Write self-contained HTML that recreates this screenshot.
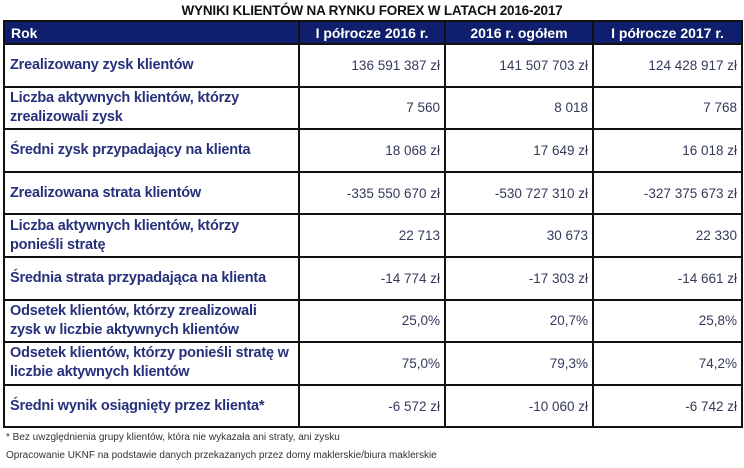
<!DOCTYPE html>
<html><head><meta charset="utf-8"><style>
body{margin:0;background:#fff;width:744px;height:468px;position:relative;font-family:"Liberation Sans",sans-serif;overflow:hidden}
.title{position:absolute;top:3px;left:0;width:744px;text-align:center;font-weight:bold;font-size:13.5px;color:#111;letter-spacing:-0.2px}
table{position:absolute;left:3px;top:20px;width:738px;border-collapse:collapse;table-layout:fixed}
td,th{border:2px solid #111;padding:0 6px;color:#243070;font-size:14px}
th{background:#0f1f6e;color:#fff;height:21px;font-weight:bold;font-size:14px}
th.l{text-align:left;padding-left:6px}
td.l{font-weight:bold;text-align:left;line-height:19px;letter-spacing:-0.2px;color:#27307a;font-size:14.5px;padding-left:5px}
td.n{text-align:right;padding-right:4px;color:#333a5a;font-size:13.5px}
tr.r td{height:40.6px}
.f{position:absolute;left:6px;font-size:10px;color:#333}
</style></head><body>
<div class="title">WYNIKI KLIENTÓW NA RYNKU FOREX W LATACH 2016-2017</div>
<table>
<colgroup><col style="width:295px"><col style="width:146px"><col style="width:148px"><col style="width:149px"></colgroup>
<tr><th class="l">Rok</th><th>I półrocze 2016 r.</th><th>2016 r. ogółem</th><th>I półrocze 2017 r.</th></tr>
<tr class="r"><td class="l">Zrealizowany zysk klientów</td><td class="n">136 591 387 zł</td><td class="n">141 507 703 zł</td><td class="n">124 428 917 zł</td></tr>
<tr class="r"><td class="l">Liczba aktywnych klientów, którzy<br>zrealizowali zysk</td><td class="n">7 560</td><td class="n">8 018</td><td class="n">7 768</td></tr>
<tr class="r"><td class="l">Średni zysk przypadający na klienta</td><td class="n">18 068 zł</td><td class="n">17 649 zł</td><td class="n">16 018 zł</td></tr>
<tr class="r"><td class="l">Zrealizowana strata klientów</td><td class="n">-335 550 670 zł</td><td class="n">-530 727 310 zł</td><td class="n">-327 375 673 zł</td></tr>
<tr class="r"><td class="l">Liczba aktywnych klientów, którzy<br>ponieśli stratę</td><td class="n">22 713</td><td class="n">30 673</td><td class="n">22 330</td></tr>
<tr class="r"><td class="l">Średnia strata przypadająca na klienta</td><td class="n">-14 774 zł</td><td class="n">-17 303 zł</td><td class="n">-14 661 zł</td></tr>
<tr class="r"><td class="l">Odsetek klientów, którzy zrealizowali<br>zysk w liczbie aktywnych klientów</td><td class="n">25,0%</td><td class="n">20,7%</td><td class="n">25,8%</td></tr>
<tr class="r"><td class="l">Odsetek klientów, którzy ponieśli stratę w<br>liczbie aktywnych klientów</td><td class="n">75,0%</td><td class="n">79,3%</td><td class="n">74,2%</td></tr>
<tr class="r"><td class="l">Średni wynik osiągnięty przez klienta*</td><td class="n">-6 572 zł</td><td class="n">-10 060 zł</td><td class="n">-6 742 zł</td></tr>
</table>
<div class="f" style="top:432px">* Bez uwzględnienia grupy klientów, która nie wykazała ani straty, ani zysku</div>
<div class="f" style="top:450px">Opracowanie UKNF na podstawie danych przekazanych przez domy maklerskie/biura maklerskie</div>
</body></html>
